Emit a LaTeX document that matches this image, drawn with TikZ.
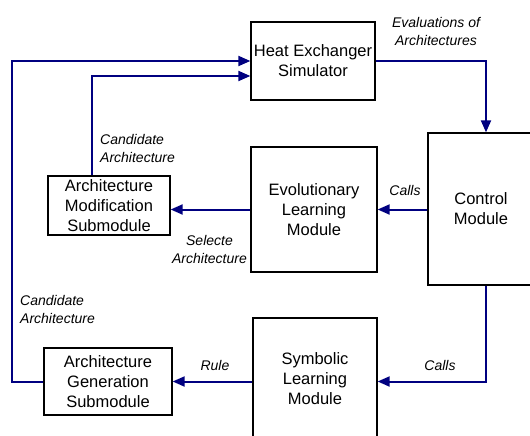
\documentclass[tikz,border=0pt]{standalone}
\usepackage{fontspec}
\setmainfont{Liberation Sans}
\usetikzlibrary{arrows.meta}
\definecolor{flowblue}{RGB}{0,0,128}
\tikzset{
  module/.style={draw=black,line width=1.3pt,inner sep=0pt,align=center,
    font=\fontsize{16.5}{20}\selectfont},
  flow/.style={draw=flowblue,line width=2pt,-{Triangle[length=12pt,width=10pt]}},
  tag/.style={inner sep=0pt,font=\fontsize{14}{18}\selectfont\itshape}
}
\begin{document}
\begin{tikzpicture}[x=1pt,y=-1pt]
\useasboundingbox (0,0) rectangle (530,436);

\node[module,minimum width=124pt,minimum height=78pt] (hes) at (313,61) {Heat Exchanger\\Simulator};
\node[module,minimum width=106pt,minimum height=152pt] (ctrl) at (481,209) {Control\\Module};
\node[module,minimum width=126pt,minimum height=125pt] (elm) at (314,209.5) {Evolutionary\\Learning\\Module};
\node[module,minimum width=122pt,minimum height=59pt] (ams) at (109,205.5) {Architecture\\Modification\\Submodule};
\node[module,minimum width=124pt,minimum height=122pt] (slm) at (315,379) {Symbolic\\Learning\\Module};
\node[module,minimum width=128pt,minimum height=67pt] (ags) at (108,381.5) {Architecture\\Generation\\Submodule};
\coordinate (ret) at (12,0);

% connectors
\draw[flow] (hes.east) -| ([xshift=5pt]ctrl.north);
\draw[flow] (ctrl.west |- elm.east) -- (elm.east);
\draw[flow] (elm.west) -- (elm.west -| ams.east);
\draw[flow] ([xshift=-17pt]ams.north) |- ([yshift=-15pt]hes.west);
\draw[flow] ([xshift=5pt]ctrl.south) |- (slm.east |- ags.east);
\draw[flow] (ags.east -| slm.west) -- (ags.east);
\draw[flow] (ags.west) -- (ags.west -| ret) |- (hes.west);

% labels
\node[tag,align=center] (eval) at (436,31) {Evaluations of\\Architectures};
\node[tag,align=left,anchor=west] (cand1) at (100,148) {Candidate\\Architecture};
\node[tag,align=center] (sel) at (209.5,249) {Selecte\\Architecture};
\node[tag] (calls1) at (405,190) {Calls};
\node[tag,align=left,anchor=west] (cand2) at (20,309) {Candidate\\Architecture};
\node[tag] (rule) at (215,365) {Rule};
\node[tag] (calls2) at (440,365) {Calls};
\end{tikzpicture}
\end{document}
